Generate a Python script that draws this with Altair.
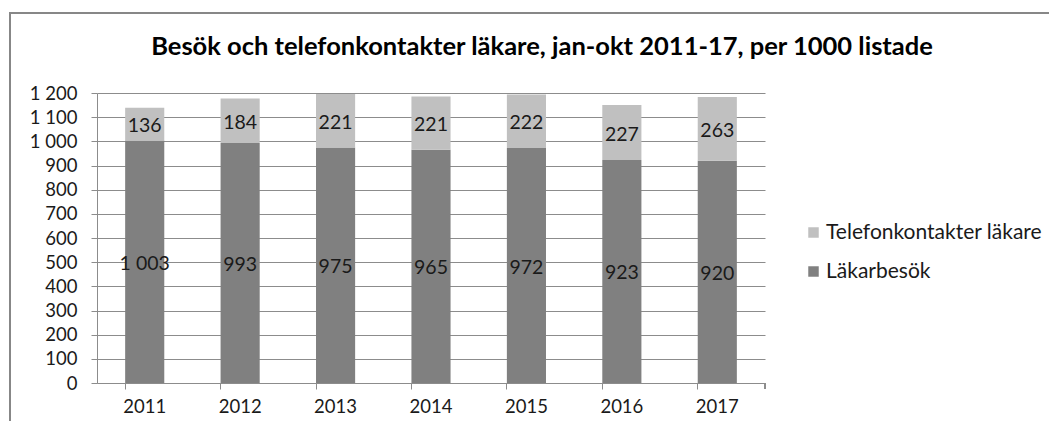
import altair as alt
import pandas as pd

years = ["2011", "2012", "2013", "2014", "2015", "2016", "2017"]
lakarbesok = [1003, 993, 975, 965, 972, 923, 920]
telefon = [136, 184, 221, 221, 222, 227, 263]
series = ["Telefonkontakter läkare", "Läkarbesök"]
colors = ["#c0c0c0", "#808080"]
y_ticks = [0, 100, 200, 300, 400, 500, 600, 700, 800, 900, 1000, 1100, 1200]
title_text = "Besök och telefonkontakter läkare, jan-okt 2011-17, per 1000 listade"

rows = []
for y, a, b in zip(years, lakarbesok, telefon):
    rows.append({"year": y, "serie": "Läkarbesök", "value": a, "order": 0,
                 "start": 0, "end": a})
    rows.append({"year": y, "serie": "Telefonkontakter läkare", "value": b, "order": 1,
                 "start": a, "end": a + b})
df = pd.DataFrame(rows)
df["mid"] = (df["start"] + df["end"]) / 2

FONT = "Lato"
W, H = 668, 290
TXT = "#1a1a1a"

xaxis = alt.Axis(labelAngle=0, labelFontSize=18.5, labelFont=FONT, labelColor=TXT,
                 domainColor="#8c8c8c", tickColor="#8c8c8c", tickSize=6,
                 bandPosition=0, labelPadding=8, grid=False)
xscale = alt.Scale(domain=years, paddingInner=0.59, paddingOuter=0.295)

yaxis = alt.Axis(values=y_ticks, tickCount=13,
                 labelExpr="replace(format(datum.value, ',d'), ',', ' ')",
                 labelFontSize=18.5, labelFont=FONT, labelColor=TXT,
                 labelOverlap=False, grid=True,
                 domainColor="#8c8c8c", tickColor="#8c8c8c", tickSize=6,
                 gridColor="#8c8c8c", gridWidth=1, labelPadding=14)
yscale = alt.Scale(domain=[0, 1200], nice=False)

base = alt.Chart(df)

bars = base.mark_bar().encode(
    x=alt.X("year:N", title=None, scale=xscale, axis=xaxis),
    y=alt.Y("start:Q", title=None, scale=yscale, axis=yaxis),
    y2="end:Q",
    color=alt.Color("serie:N", scale=alt.Scale(domain=series, range=colors),
                    legend=alt.Legend(title=None, orient="none", legendX=706, legendY=129,
                                      symbolType="square", symbolSize=110,
                                      symbolStrokeWidth=0, labelLimit=400,
                                      labelFontSize=21, labelFont=FONT, labelColor=TXT,
                                      rowPadding=17, labelOffset=2)),
)

labels = base.mark_text(fontSize=19.5, font=FONT, color=TXT, baseline="middle", dy=2).encode(
    x=alt.X("year:N", title=None, scale=xscale, axis=xaxis),
    y=alt.Y("mid:Q", title=None, scale=yscale, axis=yaxis),
    text=alt.Text("label:N"),
).transform_calculate(label="replace(format(datum.value, ',d'), ',', ' ')")

right_tick = alt.Chart(df).mark_rule(color="#8c8c8c").encode(
    x=alt.value(W), y=alt.value(H), y2=alt.value(H + 6)
)

frame = alt.Chart(df).mark_rect(fill=None, stroke="#878787", strokeWidth=2, clip=False).encode(
    x=alt.value(-87), x2=alt.value(1100), y=alt.value(-80), y2=alt.value(400)
)

title = alt.Chart(pd.DataFrame({"t": [title_text]})).mark_text(
    fontSize=25.5, font=FONT, fontWeight="bold", color="#000", align="center",
    baseline="middle"
).encode(x=alt.value(W / 2 + 111), y=alt.value(-46), text="t:N")

chart = alt.layer(frame, bars, labels, right_tick, title).properties(
    width=W, height=H,
    autosize=alt.AutoSizeParams(type="none"),
    padding={"left": 89, "top": 85, "right": 284, "bottom": 38},
).configure_view(stroke=None)

chart.save("out.html", embed_options={"renderer": "svg", "actions": False})
